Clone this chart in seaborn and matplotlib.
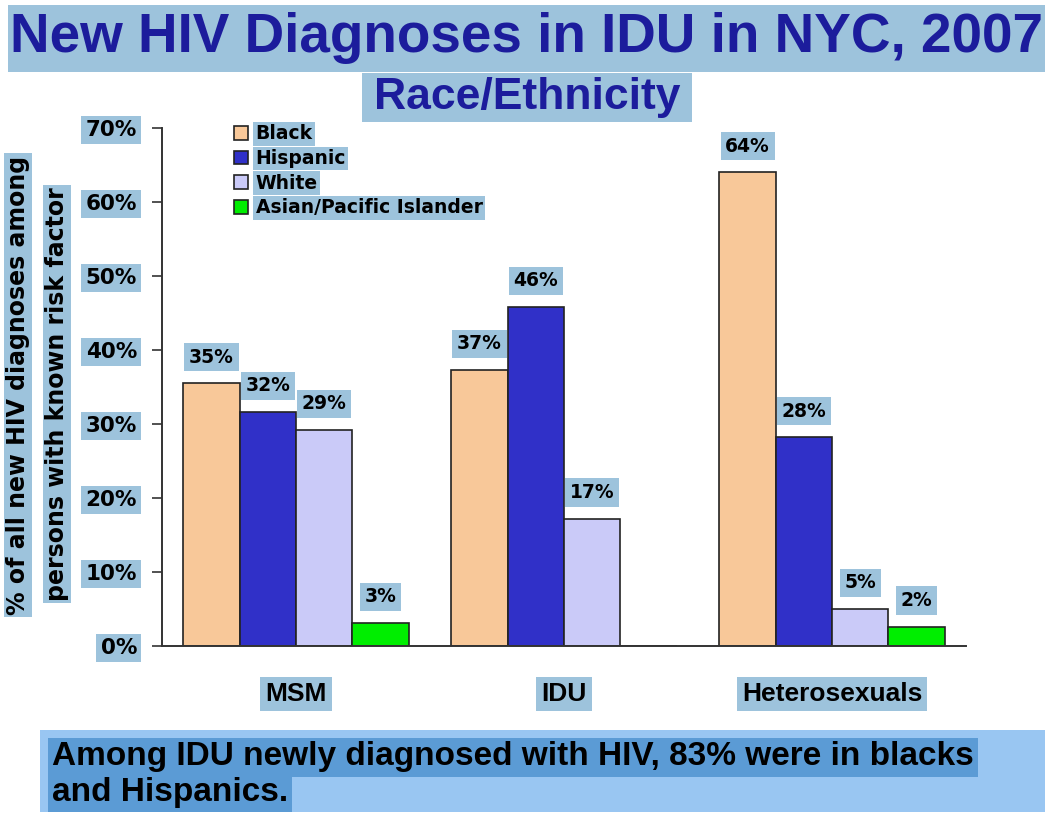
import numpy as np
import pandas as pd
import matplotlib
matplotlib.use("Agg")
import matplotlib.pyplot as plt
import seaborn as sns
from matplotlib.patches import Rectangle

# ---------------- data ----------------
categories = ["MSM", "IDU", "Heterosexuals"]
groups = ["Black", "Hispanic", "White", "Asian/Pacific Islander"]
black = [35.5, 37.3, 64.0]
hispanic = [31.6, 45.8, 28.2]
white = [29.2, 17.2, 5.0]
asian = [3.1, 0.0, 2.6]
black_labels = ["35%", "37%", "64%"]
hispanic_labels = ["32%", "46%", "28%"]
white_labels = ["29%", "17%", "5%"]
asian_labels = ["3%", "", "2%"]
yticks = [0, 10, 20, 30, 40, 50, 60, 70]
ytick_labels = ["0%", "10%", "20%", "30%", "40%", "50%", "60%", "70%"]
title = "New HIV Diagnoses in IDU in NYC, 2007"
subtitle = "Race/Ethnicity"
ylabel1 = "% of all new HIV diagnoses among"
ylabel2 = "persons with known risk factor"
note1 = "Among IDU newly diagnosed with HIV, 83% were in blacks"
note2 = "and Hispanics."

colors = ["#F8C899", "#3030C8", "#CACAF8", "#00EE00"]
BOX = "#9DC3DC"
SANS = ["Liberation Sans", "Arial", "DejaVu Sans"]

rows = []
for g, vals in zip(groups, [black, hispanic, white, asian]):
    for c, v in zip(categories, vals):
        rows.append({"category": c, "group": g, "value": v})
df = pd.DataFrame(rows)

sns.set_theme(style="white")
plt.rcParams["font.family"] = ["DejaVu Sans"]
plt.rcParams["text.color"] = "black"

W, H = 1050, 817
fig = plt.figure(figsize=(W / 100, H / 100), dpi=100)
fig.patch.set_facecolor("white")
ax = fig.add_axes([162 / W, 1 - 646 / H, (966 - 162) / W, (646 - 128) / H])

sns.barplot(data=df, x="category", y="value", hue="group", order=categories,
            hue_order=groups, palette=colors, saturation=1, width=0.84,
            edgecolor="#222222", linewidth=1.2, errorbar=None, ax=ax)

ax.set_xlim(-0.5, 2.5)
ax.set_ylim(0, 70)
ax.set_yticks(yticks)
ax.set_yticklabels(ytick_labels)
ax.set_xlabel("")
ax.set_ylabel("")
ax.set_facecolor("white")
for s in ["top", "right"]:
    ax.spines[s].set_visible(False)
for s in ["left", "bottom"]:
    ax.spines[s].set_color("#333333")
    ax.spines[s].set_linewidth(1.4)

ax.set_xticks([-0.5, 0.5, 1.5, 2.5], minor=True)
ax.tick_params(axis="x", which="minor", length=8, width=1.2, color="#333333", direction="out")
ax.tick_params(axis="x", which="major", length=0, pad=26)
ax.tick_params(axis="y", which="major", length=7, width=1.2, color="#333333", direction="out", pad=11, left=True)

for lbl in ax.get_yticklabels():
    lbl.set_fontsize(15.5)
    lbl.set_fontweight("bold")
    lbl.set_color("black")
    lbl.set_bbox(dict(boxstyle="square,pad=0.2", fc=BOX, ec="none"))
for lbl in ax.get_xticklabels():
    lbl.set_fontsize(19)
    lbl.set_fontweight("bold")
    lbl.set_family(SANS)
    lbl.set_color("black")
    lbl.set_bbox(dict(boxstyle="square,pad=0.2", fc=BOX, ec="none"))

for cont, labs in zip(ax.containers, [black_labels, hispanic_labels, white_labels, asian_labels]):
    ax.bar_label(cont, labels=labs, padding=12, fontsize=13.5, fontweight="bold",
                 color="black", bbox=dict(boxstyle="square,pad=0.25", fc=BOX, ec="none"))

handles, labels = ax.get_legend_handles_labels()
if ax.get_legend() is not None:
    ax.get_legend().remove()
leg = ax.legend(handles, labels, loc="upper left", bbox_to_anchor=(0.078, 1.025),
                frameon=False, handlelength=0.75, handleheight=0.75, labelspacing=0.3,
                handletextpad=0.4, borderpad=0, prop={"size": 13.5, "weight": "bold"})
for t in leg.get_texts():
    t.set_color("black")
    t.set_bbox(dict(boxstyle="square,pad=0.12", fc=BOX, ec="none"))

# title boxes
fig.add_artist(Rectangle((8 / W, 1 - 72 / H), (1045 - 8) / W, 67 / H,
                         transform=fig.transFigure, fc=BOX, ec="none", zorder=0))
fig.add_artist(Rectangle((362 / W, 1 - 122 / H), (692 - 362) / W, 49 / H,
                         transform=fig.transFigure, fc=BOX, ec="none", zorder=0))
fig.text(526 / W, 1 - 38 / H, title, ha="center", va="center", fontsize=39.5,
         fontweight="bold", color="#1C1C9C", family=SANS)
fig.text(527 / W, 1 - 97 / H, subtitle, ha="center", va="center", fontsize=32,
         fontweight="bold", color="#1C1C9C", family=SANS)

# y label (two boxed lines)
fig.text(18 / W, 1 - 385 / H, ylabel1, rotation=90, ha="center", va="center",
         fontsize=17, fontweight="bold", color="black",
         bbox=dict(boxstyle="square,pad=0.1", fc=BOX, ec="none"))
fig.text(57 / W, 1 - 394 / H, ylabel2, rotation=90, ha="center", va="center",
         fontsize=17, fontweight="bold", color="black",
         bbox=dict(boxstyle="square,pad=0.1", fc=BOX, ec="none"))

# bottom note
fig.add_artist(Rectangle((40 / W, 1 - 812 / H), (1045 - 40) / W, 82 / H,
                         transform=fig.transFigure, fc="#99C6F2", ec="none", zorder=0))
fig.text(52 / W, 1 - 757 / H, note1, ha="left", va="center", fontsize=24,
         fontweight="bold", color="black", family=SANS,
         bbox=dict(boxstyle="square,pad=0.12", fc="#5B9BD5", ec="none"))
fig.text(52 / W, 1 - 792 / H, note2, ha="left", va="center", fontsize=24,
         fontweight="bold", color="black", family=SANS,
         bbox=dict(boxstyle="square,pad=0.12", fc="#5B9BD5", ec="none"))

fig.savefig("out.png", dpi=100, facecolor="white")
